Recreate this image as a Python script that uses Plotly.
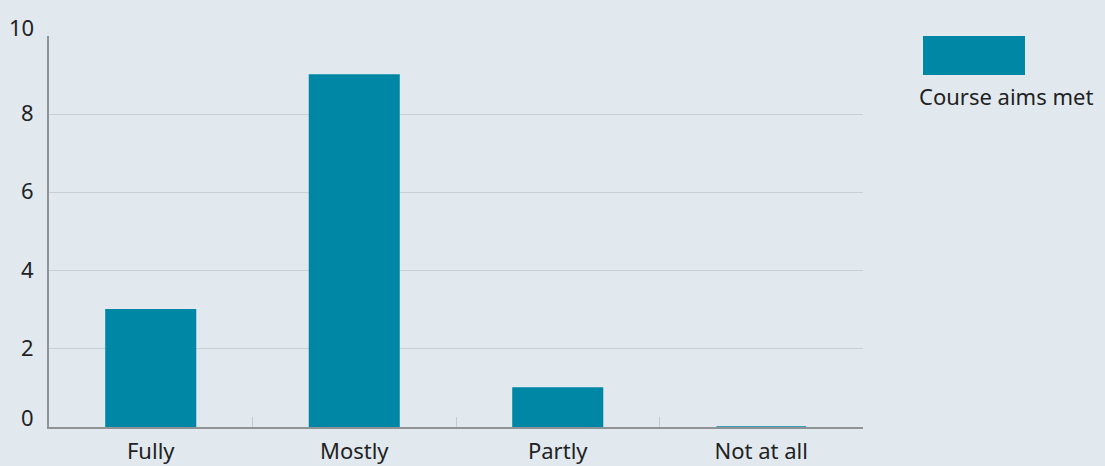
import plotly.graph_objects as go

categories = ["Fully", "Mostly", "Partly", "Not at all"]
values = [3, 9, 1, 0]
series_name = "Course aims met"
y_ticks = [0, 2, 4, 6, 8, 10]
y_tick_labels = ["0", "2", "4", "6", "8", "10"]

BG = "#e1e9ef"
BAR = "#0087a5"
TEXT = "#222222"
FONT = "Noto Sans"

fig = go.Figure()
fig.add_trace(go.Bar(
    x=categories, y=values, name=series_name,
    marker=dict(color=BAR, line=dict(color=BAR, width=1.5)),
    showlegend=False,
))

# y tick labels drawn as annotations so the end labels can sit slightly above their gridlines
label_shift = {0: 10, 10: 9}
annotations = []
for v, t in zip(y_ticks, y_tick_labels):
    annotations.append(dict(
        text=t, xref="paper", yref="y", x=0, y=v, xanchor="right", yanchor="middle",
        xshift=-13, yshift=label_shift.get(v, 2), showarrow=False,
        font=dict(size=22, color=TEXT)))

annotations.append(dict(text=series_name, xref="paper", yref="paper",
                        x=(1006 - 49) / 814, y=(427 - 96) / 391,
                        xanchor="center", yanchor="middle", showarrow=False,
                        font=dict(size=22, color=TEXT)))

fig.update_layout(
    width=1105, height=466,
    paper_bgcolor=BG, plot_bgcolor=BG,
    margin=dict(l=49, r=242, t=36, b=39),
    bargap=0.56,
    font=dict(family=FONT, size=22, color=TEXT),
    xaxis=dict(
        automargin=False, layer="below traces",
        showgrid=False, showline=True, linecolor="#8f9396", linewidth=2,
        ticks="inside", tickson="boundaries", ticklen=10, tickcolor="#c4cacd", tickwidth=1,
        ticklabelstandoff=4,
        tickfont=dict(size=22, color=TEXT),
    ),
    yaxis=dict(
        automargin=False, layer="below traces",
        range=[0, 10], tickvals=y_ticks, showgrid=True, gridcolor="#c8d0d4", gridwidth=1,
        showline=True, linecolor="#8f9396", linewidth=2, zeroline=False,
        ticks="", showticklabels=False,
    ),
    shapes=[dict(type="rect", xref="paper", yref="paper",
                 x0=(923 - 49) / 814, x1=(1025 - 49) / 814,
                 y0=(427 - 75) / 391, y1=(427 - 36) / 391,
                 fillcolor=BAR, line=dict(width=0))],
    annotations=annotations,
)

fig.write_html("out.html")
